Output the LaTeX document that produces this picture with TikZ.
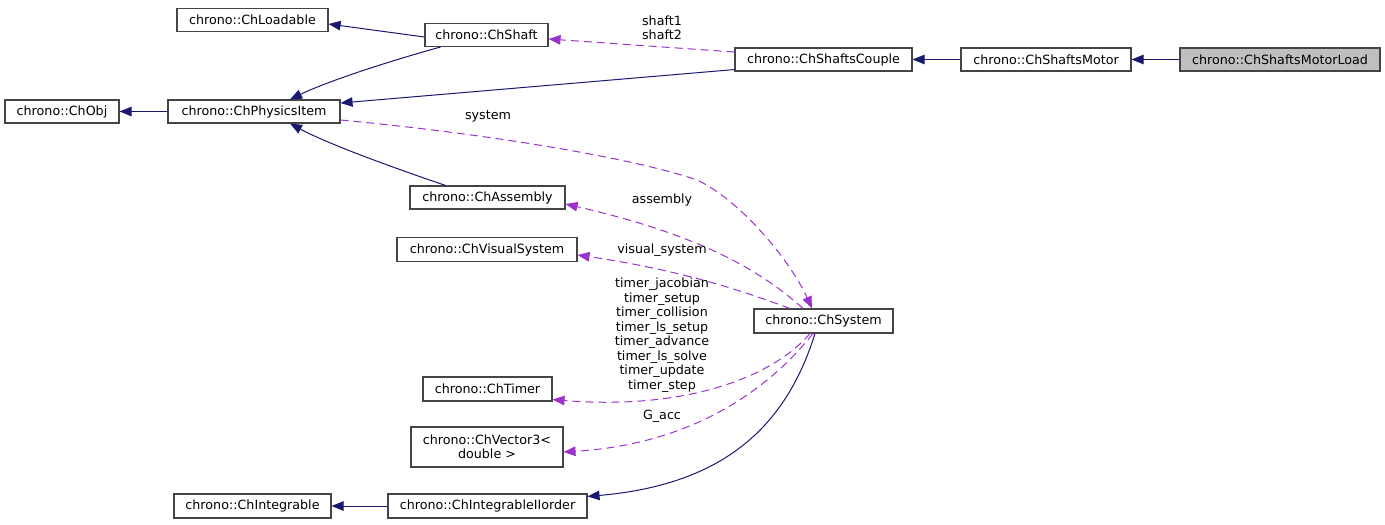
\documentclass[tikz,border=0pt]{standalone}
\usepackage{fontspec}
\setmainfont{DejaVu Sans}
\usetikzlibrary{arrows.meta}
\definecolor{navyedge}{HTML}{191970}
\definecolor{useedge}{HTML}{9A32CD}
\definecolor{boxline}{HTML}{444444}
\definecolor{mainfill}{HTML}{BFBFBF}
\begin{document}
\begin{tikzpicture}[x=1pt,y=-1pt,
  every node/.style={font=\fontsize{12.7}{14.5}\selectfont,text=black},
  cls/.style={draw=boxline,line width=1.1pt,fill=white,minimum height=23pt,inner sep=0pt,align=center},
  inh/.style={navyedge,line width=1pt,-{Triangle[length=12pt,width=9.5pt]}},
  use/.style={useedge,line width=1pt,dash pattern=on 8pt off 5pt,-{Triangle[length=12pt,width=9.5pt]}},
  lbl/.style={inner sep=0pt,align=center,text=black}]
\useasboundingbox (0,0) rectangle (1385,525);
% nodes
\node[cls,minimum width=151pt] (load) at (252.5,20) {chrono::ChLoadable};
\node[cls,minimum width=123pt] (shaft) at (486.5,35) {chrono::ChShaft};
\node[cls,minimum width=114pt] (obj) at (62,111.5) {chrono::ChObj};
\node[cls,minimum width=172pt] (phys) at (254,111.5) {chrono::ChPhysicsItem};
\node[cls,minimum width=177pt] (couple) at (823.5,59.5) {chrono::ChShaftsCouple};
\node[cls,minimum width=170pt] (motor) at (1046,59.5) {chrono::ChShaftsMotor};
\node[cls,minimum width=200pt,fill=mainfill] (mload) at (1280,59.5) {chrono::ChShaftsMotorLoad};
\node[cls,minimum width=155pt] (asm) at (487.5,197.5) {chrono::ChAssembly};
\node[cls,minimum width=180pt,minimum height=24pt] (vis) at (487,249.5) {chrono::ChVisualSystem};
\node[cls,minimum width=139pt,minimum height=24pt] (sys) at (823.5,321) {chrono::ChSystem};
\node[cls,minimum width=129pt,minimum height=24pt] (timer) at (487.5,389) {chrono::ChTimer};
\node[cls,minimum width=152pt,minimum height=40pt] (vec) at (487,447) {chrono::ChVector3\textless\\double \textgreater};
\node[cls,minimum width=157pt,minimum height=24pt] (integ) at (252.5,506) {chrono::ChIntegrable};
\node[cls,minimum width=199pt,minimum height=24pt] (iio) at (487.5,506) {chrono::ChIntegrableIIorder};
% inheritance edges
\draw[inh] ([yshift=-2pt]shaft.west) -- ([yshift=-4pt]load.east);
\draw[inh] ([xshift=-46pt]shaft.south) .. controls (400,58) and (330,80) .. ([xshift=36pt]phys.north);
\draw[inh] ([yshift=2pt]couple.south west) -- ([yshift=8.5pt]phys.east);
\draw[inh] (phys.west) -- (obj.east);
\draw[inh] ([xshift=-42pt]asm.north) .. controls (400,170) and (330,145) .. ([xshift=36pt]phys.south);
\draw[inh] (motor.west) -- (couple.east);
\draw[inh] (mload.west) -- (motor.east);
\draw[inh] (iio.west) -- (integ.east);
\draw[inh] ([xshift=-8.5pt]sys.south) .. controls (785,430) and (720,485) .. ([yshift=-3pt]iio.north east);
% usage edges
\draw[use] ([yshift=7.5pt]couple.west) -- ([yshift=-4pt]shaft.east);
\node[lbl] (lshaft) at (662,28) {shaft1\\shaft2};
\draw[use] ([yshift=-8.5pt]phys.east) .. controls (500,135) and (640,160) .. (697,180)
  .. controls (740,200) and (790,260) .. ([xshift=-11.5pt]sys.north);
\node[lbl] (lsystem) at (488,116) {system};
\draw[use] ([xshift=-20.5pt]sys.north) .. controls (760,270) and (700,235) .. ([yshift=-6.5pt]asm.east);
\node[lbl] (lasm) at (662,200) {assembly};
\draw[use] ([xshift=-33.5pt]sys.north) .. controls (740,290) and (680,270) .. ([yshift=-5.5pt]vis.east);
\node[lbl] (lvis) at (662,250) {visual\_system};
\draw[use] ([xshift=-13.5pt]sys.south) .. controls (770,380) and (680,410) .. ([yshift=2pt]timer.south east);
\node[lbl] (ltimer) at (662,335) {timer\_jacobian\\timer\_setup\\timer\_collision\\timer\_ls\_setup\\timer\_advance\\timer\_ls\_solve\\timer\_update\\timer\_step};
\draw[use] ([xshift=-10.5pt]sys.south) .. controls (760,400) and (680,445) .. ([yshift=-5pt]vec.east);
\node[lbl] (lgacc) at (662,416) {G\_acc};
\end{tikzpicture}
\end{document}
